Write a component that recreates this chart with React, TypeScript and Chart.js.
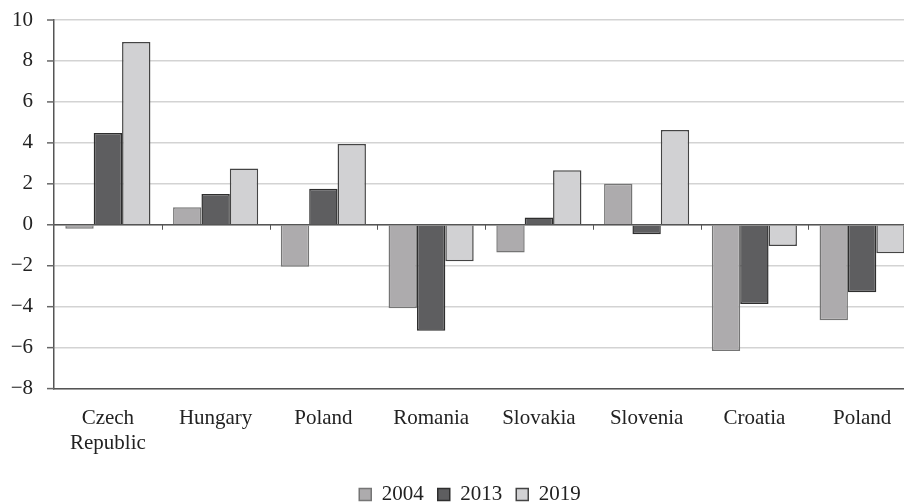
import React, { useEffect, useRef } from "react";
import { Chart, registerables } from "chart.js";

Chart.register(...registerables);

const categories: (string | string[])[] = [
  ["Czech", "Republic"],
  "Hungary",
  "Poland",
  "Romania",
  "Slovakia",
  "Slovenia",
  "Croatia",
  "Poland",
];
const series2004 = [-0.2, 0.85, -2.05, -4.08, -1.35, 2.0, -6.16, -4.66];
const series2013 = [4.48, 1.5, 1.76, -5.17, 0.36, -0.46, -3.87, -3.29];
const series2019 = [8.92, 2.75, 3.95, -1.78, 2.66, 4.63, -1.04, -1.39];
const seriesLabels = ["2004", "2013", "2019"];
const yMin = -8;
const yMax = 10;
const yStep = 2;

const FONT = "'Liberation Serif', 'DejaVu Serif', serif";

const axisMarks = {
  id: "axisMarks",
  afterLayout(chart: any) {
    const lg = chart.legend;
    if (lg) {
      lg.left += 12;
      lg.right += 12;
      lg.top -= 3;
      lg.bottom -= 3;
    }
  },
  afterDraw(chart: any) {
    const x = chart.scales.x;
    const y = chart.scales.y;
    const ctx = chart.ctx;
    const y0 = y.getPixelForValue(0);
    const left = chart.chartArea.left;
    ctx.save();
    ctx.strokeStyle = "#555";
    ctx.lineWidth = 1.5;
    ctx.beginPath();
    ctx.moveTo(left, y0);
    ctx.lineTo(chart.chartArea.right, y0);
    ctx.stroke();
    ctx.lineWidth = 1;
    const n = x.ticks.length;
    for (let i = 1; i < n; i++) {
      const px = (x.getPixelForValue(i - 1) + x.getPixelForValue(i)) / 2;
      ctx.beginPath();
      ctx.moveTo(Math.round(px) + 0.5, y0);
      ctx.lineTo(Math.round(px) + 0.5, y0 + 5);
      ctx.stroke();
    }
    ctx.strokeStyle = "#666";
    ctx.lineWidth = 1.5;
    y.ticks.forEach((t: any) => {
      const py = y.getPixelForValue(t.value);
      ctx.beginPath();
      ctx.moveTo(left - 7, py);
      ctx.lineTo(left, py);
      ctx.stroke();
    });
    ctx.restore();
  },
};

export default function App() {
  const ref = useRef<HTMLCanvasElement>(null);
  useEffect(() => {
    if (!ref.current) return;
    const chart = new Chart(ref.current, {
      type: "bar",
      data: {
        labels: categories,
        datasets: [
          {
            label: seriesLabels[0],
            data: series2004,
            backgroundColor: "#adabad",
            borderColor: "#757575",
            borderWidth: 1.5,
          },
          {
            label: seriesLabels[1],
            data: series2013,
            backgroundColor: "#5e5e60",
            borderColor: "#2e2e2e",
            borderWidth: 1.5,
          },
          {
            label: seriesLabels[2],
            data: series2019,
            backgroundColor: "#d1d1d3",
            borderColor: "#444",
            borderWidth: 1.5,
          },
        ],
      },
      options: {
        responsive: false,
        animation: false,
        layout: { padding: { top: 20, right: 24, left: 0, bottom: -15 } },
        datasets: {
          bar: { categoryPercentage: 0.79, barPercentage: 1.0 },
        },
        plugins: {
          tooltip: { enabled: false },
          legend: {
            position: "bottom",
            labels: {
              font: { family: FONT, size: 21 },
              color: "#222",
              boxWidth: 12,
              boxHeight: 12,
              padding: 14,
            },
          },
        },
        scales: {
          x: {
            grid: { display: false, drawTicks: false },
            border: { display: true, color: "#555", width: 1.5 },
            ticks: {
              font: { family: FONT, size: 21 },
              color: "#222",
              padding: 17,
              maxRotation: 0,
              autoSkip: false,
            },
          },
          y: {
            min: yMin,
            max: yMax,
            afterFit: (s: any) => {
              s.width = 54;
            },
            ticks: {
              stepSize: yStep,
              font: { family: FONT, size: 21 },
              color: "#222",
              padding: 0,
              callback: (v: any) => (Number(v) < 0 ? "\u2212" + Math.abs(Number(v)) : String(v)),
            },
            grid: {
              color: "#d3d3d3",
              lineWidth: 1.5,
              tickColor: "rgba(0,0,0,0)",
              tickLength: 21,
            },
            border: { display: true, color: "#555", width: 1.5 },
          },
        },
      },
      plugins: [axisMarks],
    });
    return () => chart.destroy();
  }, []);
  return (
    <div
      style={{
        position: "fixed",
        left: 0,
        top: 0,
        width: 904,
        height: 503,
        overflow: "hidden",
        background: "#fff",
      }}
    >
      <canvas ref={ref} width={940} height={503} style={{ display: "block" }} />
    </div>
  );
}
